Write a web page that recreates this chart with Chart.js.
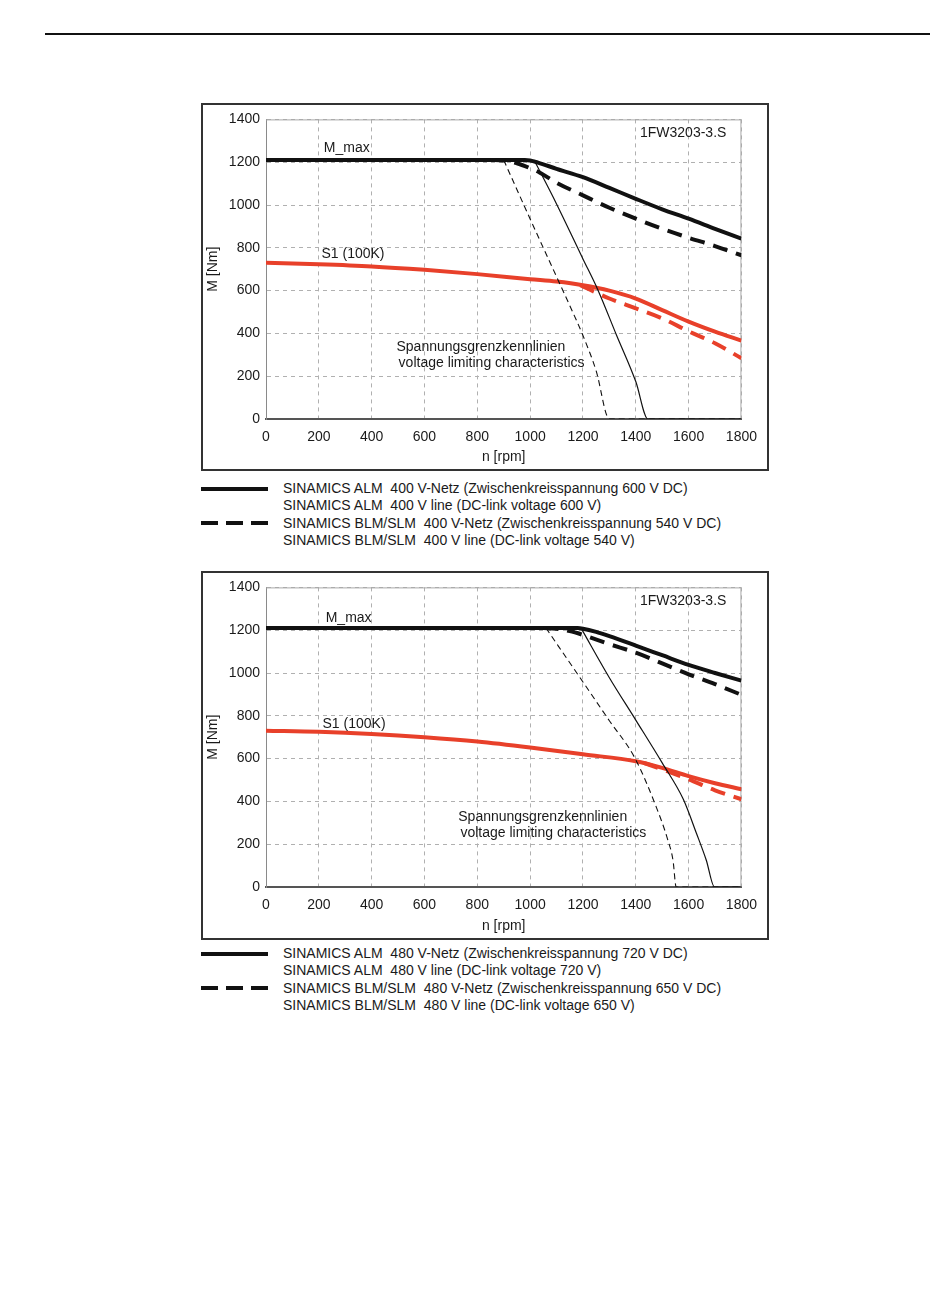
<!DOCTYPE html>
<html>
<head>
<meta charset="utf-8">
<script src="https://cdn.jsdelivr.net/npm/chart.js@4.4.1/dist/chart.umd.min.js"></script>
<style>
body { margin: 0; background: #fff; font-family: "Liberation Sans", Arial, sans-serif; color: #1a1a1a; }
.page { position: relative; width: 950px; height: 1301px; overflow: hidden; }
.rule { position: absolute; left: 45px; top: 33px; width: 885px; height: 2px; background: #111; }
.box { position: absolute; left: 201px; width: 568px; border: 2px solid #333; box-sizing: border-box; background: #fff; }
.box canvas { display: block; }
.leg { position: absolute; left: 283px; font-size: 14px; line-height: 17px; white-space: pre; }
.sample { position: absolute; left: 201px; width: 67px; height: 4px; background: #111; }
.sample.dash { background: repeating-linear-gradient(to right, #111 0 17px, transparent 17px 25px); }
</style>
</head>
<body>
<div class="page">
  <div class="rule"></div>

  <div class="box" style="top:103px;height:368px;"><canvas id="chart1" width="564" height="364"></canvas></div>
  <div class="sample" style="top:487px;"></div>
  <div class="leg" style="top:480px;">SINAMICS ALM  400 V-Netz (Zwischenkreisspannung 600 V DC)</div>
  <div class="leg" style="top:497px;">SINAMICS ALM  400 V line (DC-link voltage 600 V)</div>
  <div class="sample dash" style="top:521px;"></div>
  <div class="leg" style="top:515px;">SINAMICS BLM/SLM  400 V-Netz (Zwischenkreisspannung 540 V DC)</div>
  <div class="leg" style="top:532px;">SINAMICS BLM/SLM  400 V line (DC-link voltage 540 V)</div>

  <div class="box" style="top:571px;height:369px;"><canvas id="chart2" width="564" height="365"></canvas></div>
  <div class="sample" style="top:952px;"></div>
  <div class="leg" style="top:945px;">SINAMICS ALM  480 V-Netz (Zwischenkreisspannung 720 V DC)</div>
  <div class="leg" style="top:962px;">SINAMICS ALM  480 V line (DC-link voltage 720 V)</div>
  <div class="sample dash" style="top:986px;"></div>
  <div class="leg" style="top:980px;">SINAMICS BLM/SLM  480 V-Netz (Zwischenkreisspannung 650 V DC)</div>
  <div class="leg" style="top:997px;">SINAMICS BLM/SLM  480 V line (DC-link voltage 650 V)</div>
</div>

<script>
// --- chart 1: 400 V line ---
const c1MaxAlmRpm = [0, 980, 1000, 1030, 1100, 1200, 1300, 1400, 1500, 1600, 1700, 1800];
const c1MaxAlmNm  = [1210, 1210, 1208, 1198, 1169, 1130, 1080, 1029, 980, 936, 889, 843];
const c1MaxBlmRpm = [850, 900, 950, 1000, 1034, 1100, 1200, 1300, 1400, 1500, 1600, 1700, 1800];
const c1MaxBlmNm  = [1210, 1208, 1195, 1172, 1153, 1104, 1045, 987, 936, 889, 847, 808, 765];
const c1VoltAlmRpm = [1015, 1100, 1200, 1257, 1326, 1400, 1446, 1800];
const c1VoltAlmNm  = [1210, 1005, 748, 602, 395, 175, 0, 0];
const c1VoltBlmRpm = [900, 1000, 1100, 1150, 1200, 1250, 1300, 1800];
const c1VoltBlmNm  = [1210, 935, 665, 530, 390, 225, 0, 0];
const c1S1AlmRpm = [0, 200, 400, 600, 800, 1000, 1100, 1200, 1300, 1400, 1500, 1600, 1700, 1800];
const c1S1AlmNm  = [730, 723, 713, 697, 677, 653, 642, 625, 600, 563, 509, 455, 408, 366];
const c1S1BlmRpm = [1190, 1225, 1300, 1400, 1500, 1600, 1700, 1800];
const c1S1BlmNm  = [625, 605, 563, 517, 470, 410, 354, 284];

// --- chart 2: 480 V line ---
const c2MaxAlmRpm = [0, 1180, 1200, 1250, 1300, 1400, 1500, 1600, 1700, 1800];
const c2MaxAlmNm  = [1210, 1210, 1207, 1192, 1172, 1128, 1083, 1038, 1000, 964];
const c2MaxBlmRpm = [1050, 1100, 1150, 1200, 1300, 1400, 1500, 1600, 1700, 1800];
const c2MaxBlmNm  = [1210, 1207, 1196, 1178, 1135, 1095, 1045, 994, 948, 898];
const c2VoltAlmRpm = [1195, 1300, 1400, 1500, 1580, 1630, 1667, 1698, 1800];
const c2VoltAlmNm  = [1205, 978, 780, 580, 410, 250, 125, 0, 0];
const c2VoltBlmRpm = [1060, 1200, 1300, 1396, 1478, 1520, 1541, 1553, 1800];
const c2VoltBlmNm  = [1210, 958, 777, 604, 372, 225, 124, 0, 0];
const c2S1AlmRpm = [0, 200, 400, 600, 800, 1000, 1200, 1400, 1500, 1600, 1700, 1800];
const c2S1AlmNm  = [730, 725, 715, 700, 680, 652, 620, 588, 557, 518, 485, 457];
const c2S1BlmRpm = [1430, 1500, 1600, 1700, 1800];
const c2S1BlmNm  = [580, 550, 503, 452, 410];

const FONT = '"Liberation Sans", Arial, sans-serif';
const RED = '#e8402a';
const INK = '#111';

function pts(xs, ys) {
    return xs.map((x, i) => ({ x: x, y: ys[i] }));
}

function line(data, color, width, dash) {
    return {
        data: data,
        borderColor: color,
        borderWidth: width,
        borderDash: dash || [],
        pointRadius: 0,
        showLine: true,
        fill: false,
        cubicInterpolationMode: 'monotone',
        borderCapStyle: 'butt'
    };
}

// plot frame (top/right edges) and the text notes inside the plot
const notesPlugin = {
    id: 'notes',
    beforeDatasetsDraw(chart) {
        const { ctx, chartArea: a } = chart;
        ctx.save();
        ctx.strokeStyle = '#a8a8a8';
        ctx.lineWidth = 1;
        ctx.beginPath();
        ctx.moveTo(a.left, a.top + 0.5);
        ctx.lineTo(a.right - 0.5, a.top + 0.5);
        ctx.lineTo(a.right - 0.5, a.bottom);
        ctx.stroke();
        ctx.restore();
    },
    afterDatasetsDraw(chart, args, opts) {
        const { ctx, scales: { x, y } } = chart;
        ctx.save();
        ctx.font = '14px ' + FONT;
        ctx.fillStyle = '#1a1a1a';
        ctx.textBaseline = 'middle';
        (opts.items || []).forEach(t => {
            ctx.textAlign = t.align || 'left';
            ctx.fillText(t.text, x.getPixelForValue(t.x), y.getPixelForValue(t.y));
        });
        ctx.restore();
    }
};

function makeChart(id, sets, notes, topPad, xAxisH) {
    return new Chart(document.getElementById(id), {
        type: 'scatter',
        data: { datasets: sets },
        plugins: [notesPlugin],
        options: {
            responsive: false,
            animation: false,
            devicePixelRatio: 1,
            layout: { padding: { left: 0, right: 24, top: topPad, bottom: 0 } },
            plugins: {
                legend: { display: false },
                tooltip: { enabled: false },
                notes: { items: notes }
            },
            scales: {
                x: {
                    type: 'linear', min: 0, max: 1800,
                    afterFit: s => { s.height = xAxisH; },
                    ticks: { stepSize: 200, color: '#1a1a1a', font: { family: FONT, size: 14 }, padding: 10, maxRotation: 0, callback: v => String(v) },
                    grid: { color: '#b0b0b0', lineWidth: 1, drawTicks: false },
                    border: { color: '#555', width: 2, dash: [4, 4] },
                    title: { display: true, text: 'n [rpm]', color: '#1a1a1a', font: { family: FONT, size: 14 }, padding: { top: 0, bottom: 3 } }
                },
                y: {
                    type: 'linear', min: 0, max: 1400,
                    afterFit: s => { s.width = 63; },
                    ticks: { stepSize: 200, color: '#1a1a1a', font: { family: FONT, size: 14 }, padding: 6, callback: v => String(v) },
                    grid: { color: '#b0b0b0', lineWidth: 1, drawTicks: false },
                    border: { color: '#8a8a8a', width: 1, dash: [4, 4] },
                    title: { display: true, text: 'M [Nm]', color: '#1a1a1a', font: { family: FONT, size: 14 }, padding: { top: 2, bottom: 0 } }
                }
            }
        }
    });
}

makeChart('chart1', [
    line(pts(c1VoltAlmRpm, c1VoltAlmNm), INK, 1.2),
    line(pts(c1VoltBlmRpm, c1VoltBlmNm), INK, 1.1, [6, 4]),
    line(pts(c1S1BlmRpm, c1S1BlmNm), RED, 4, [15, 9]),
    line(pts(c1S1AlmRpm, c1S1AlmNm), RED, 4),
    line(pts(c1MaxBlmRpm, c1MaxBlmNm), INK, 4, [15, 9]),
    line(pts(c1MaxAlmRpm, c1MaxAlmNm), INK, 4)
], [
    { text: 'M_max', x: 219, y: 1267 },
    { text: 'S1 (100K)', x: 210, y: 770 },
    { text: '1FW3203-3.S', x: 1743, y: 1336, align: 'right' },
    { text: 'Spannungsgrenzkennlinien', x: 494, y: 336 },
    { text: 'voltage limiting characteristics', x: 502, y: 259 }
], 13, 50);

makeChart('chart2', [
    line(pts(c2VoltAlmRpm, c2VoltAlmNm), INK, 1.2),
    line(pts(c2VoltBlmRpm, c2VoltBlmNm), INK, 1.1, [6, 4]),
    line(pts(c2S1BlmRpm, c2S1BlmNm), RED, 4, [15, 9]),
    line(pts(c2S1AlmRpm, c2S1AlmNm), RED, 4),
    line(pts(c2MaxBlmRpm, c2MaxBlmNm), INK, 4, [15, 9]),
    line(pts(c2MaxAlmRpm, c2MaxAlmNm), INK, 4)
], [
    { text: 'M_max', x: 226, y: 1257 },
    { text: 'S1 (100K)', x: 214, y: 761 },
    { text: '1FW3203-3.S', x: 1743, y: 1338, align: 'right' },
    { text: 'Spannungsgrenzkennlinien', x: 728, y: 327 },
    { text: 'voltage limiting characteristics', x: 736, y: 250 }
], 12, 51);
</script>
</body>
</html>
